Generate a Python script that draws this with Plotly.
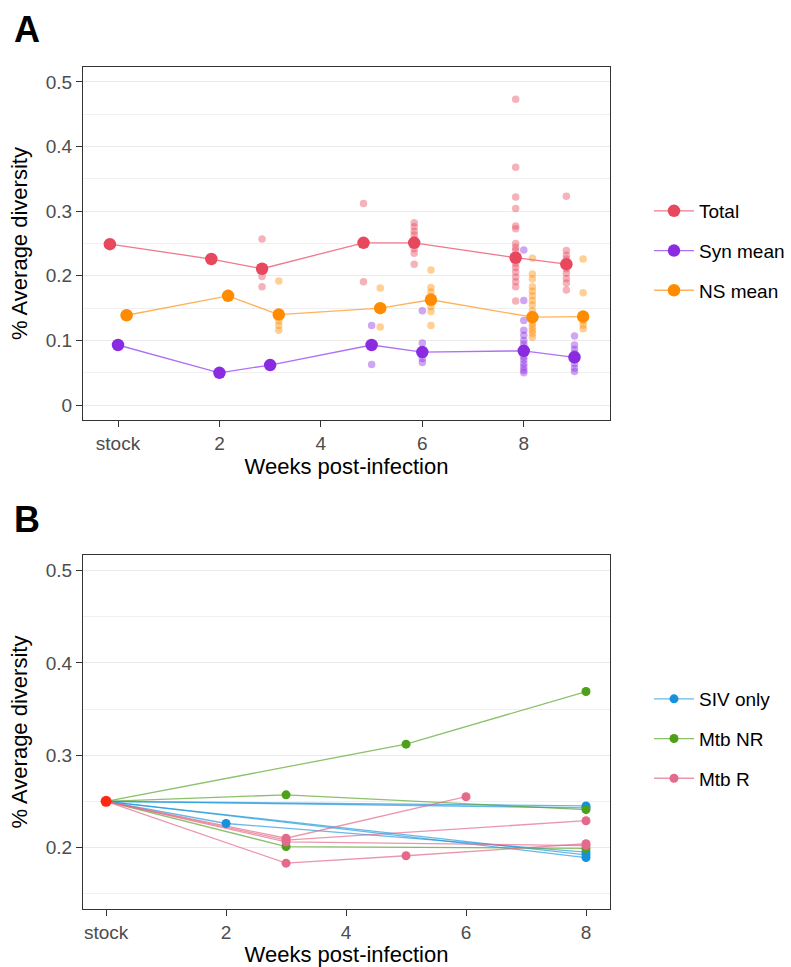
import plotly.graph_objects as go
from plotly.subplots import make_subplots

# ---------------- Panel A data ----------------
weeks_a = [0, 2, 3, 5, 6, 8, 9]
total_mean = [0.249, 0.226, 0.211, 0.251, 0.251, 0.228, 0.218]
syn_mean = [0.093, 0.050, 0.062, 0.093, 0.082, 0.084, 0.074]
ns_mean = [0.139, 0.169, 0.140, 0.150, 0.163, 0.136, 0.137]

total_ind = {
    3: [0.257, 0.210, 0.199, 0.183],
    5: [0.312, 0.191],
    6: [0.282, 0.276, 0.269, 0.263, 0.256, 0.249, 0.242, 0.235, 0.218],
    8: [0.473, 0.368, 0.322, 0.304, 0.277, 0.273, 0.250, 0.244, 0.239, 0.232,
        0.227, 0.219, 0.213, 0.206, 0.198, 0.191, 0.183, 0.161],
    9: [0.323, 0.239, 0.232, 0.226, 0.218, 0.211, 0.204, 0.196, 0.189, 0.178],
}
syn_ind = {
    3: [0.064, 0.060],
    5: [0.123, 0.063],
    6: [0.146, 0.096, 0.078, 0.072, 0.066],
    8: [0.240, 0.162, 0.131, 0.116, 0.108, 0.100, 0.094, 0.088, 0.080, 0.075,
        0.070, 0.064, 0.059, 0.054, 0.050],
    9: [0.107, 0.093, 0.086, 0.080, 0.070, 0.064, 0.057, 0.052],
}
ns_ind = {
    3: [0.192, 0.130, 0.123, 0.116],
    5: [0.181, 0.121],
    6: [0.209, 0.182, 0.175, 0.168, 0.152, 0.145, 0.123],
    8: [0.227, 0.203, 0.195, 0.183, 0.176, 0.169, 0.162, 0.155, 0.146, 0.140,
        0.131, 0.126, 0.121, 0.116, 0.111, 0.105],
    9: [0.226, 0.174, 0.130, 0.124, 0.118],
}

# ---------------- Panel B data ----------------
stock_value = 0.25
siv_only = [
    ([0, 8], [0.25, 0.245]),
    ([0, 8], [0.25, 0.243]),
    ([0, 2, 8], [0.25, 0.226, 0.195]),
    ([0, 8], [0.25, 0.192]),
    ([0, 8], [0.25, 0.189]),
]
mtb_nr = [
    ([0, 5, 8], [0.25, 0.312, 0.369]),
    ([0, 3, 8], [0.25, 0.257, 0.241]),
    ([0, 3, 8], [0.25, 0.201, 0.199]),
]
mtb_r = [
    ([0, 3, 5, 8], [0.25, 0.183, 0.191, 0.204]),
    ([0, 3, 6], [0.25, 0.210, 0.255]),
    ([0, 3, 8], [0.25, 0.208, 0.229]),
    ([0, 3, 8], [0.25, 0.206, 0.202]),
]

x_ticks = [0, 2, 4, 6, 8]
x_ticktext = ["stock", "2", "4", "6", "8"]

FONT = "Liberation Sans, Arial, sans-serif"

fig = make_subplots(rows=2, cols=1, vertical_spacing=0.0)

series_a = [
    ("Total", total_mean, total_ind, "#E8485E", "rgba(232,72,94,0.42)", "rgba(240,120,140,1)", -0.16),
    ("Syn mean", syn_mean, syn_ind, "#8A2BE2", "rgba(138,43,226,0.42)", "rgba(176,112,246,1)", 0.0),
    ("NS mean", ns_mean, ns_ind, "#FF8C00", "rgba(255,140,0,0.42)", "rgba(255,178,90,1)", 0.17),
]

# individual points first (behind)
for name, means, ind, col, col_a, lcol, dx in series_a:
    xs, ys = [], []
    for wk, vals in ind.items():
        for v in vals:
            xs.append(wk + dx)
            ys.append(v)
    fig.add_trace(go.Scatter(x=xs, y=ys, mode="markers",
                             marker=dict(size=7.5, color=col_a),
                             showlegend=False, hoverinfo="skip"), row=1, col=1)

for name, means, ind, col, col_a, lcol, dx in series_a:
    fig.add_trace(go.Scatter(x=[w + dx for w in weeks_a], y=means, mode="lines+markers",
                             name=name, legendgroup=name, legend="legend",
                             line=dict(color=lcol, width=1.3),
                             marker=dict(size=12.5, color=col)), row=1, col=1)

# Panel B
groups_b = [
    ("SIV only", siv_only, "#1592DA", "rgba(21,146,218,0.65)"),
    ("Mtb NR", mtb_nr, "#4DA01A", "rgba(77,160,26,0.65)"),
    ("Mtb R", mtb_r, "#E36A8A", "rgba(227,106,138,0.70)"),
]
for name, animals, col, lcol in groups_b:
    for i, (xs, ys) in enumerate(animals):
        fig.add_trace(go.Scatter(x=xs, y=ys, mode="lines",
                                 line=dict(color=lcol, width=1.3),
                                 showlegend=False, hoverinfo="skip"), row=2, col=1)
for name, animals, col, lcol in groups_b:
    for i, (xs, ys) in enumerate(animals):
        fig.add_trace(go.Scatter(x=xs[1:], y=ys[1:], mode="markers",
                                 marker=dict(size=9, color=col),
                                 showlegend=False, hoverinfo="skip"), row=2, col=1)
    # legend entry
    fig.add_trace(go.Scatter(x=[None], y=[None], mode="lines+markers", name=name,
                             legendgroup=name, legend="legend2",
                             line=dict(color=lcol, width=1.3),
                             marker=dict(size=9, color=col)), row=2, col=1)
fig.add_trace(go.Scatter(x=[0], y=[stock_value], mode="markers",
                         marker=dict(size=11, color="#FF2A12"),
                         showlegend=False, hoverinfo="skip"), row=2, col=1)

axis_common = dict(showline=True, mirror=True, linecolor="#333333", linewidth=1.1,
                   ticks="outside", ticklen=6, tickcolor="#333333", tickwidth=1.1,
                   tickfont=dict(family=FONT, size=19, color="#4D4D4D"),
                   zeroline=False, automargin=False)

TOP, BOT = 67, 909
H = BOT - TOP
dA = [(BOT - 420) / H, 1.0]
dB = [0.0, (BOT - 555) / H]

fig.update_xaxes(**axis_common, showgrid=False, tickvals=x_ticks, ticktext=x_ticktext,
                 title=dict(text="Weeks post-infection", font=dict(family=FONT, size=22, color="black"),
                            standoff=0))
fig.update_xaxes(range=[-0.69, 9.7], row=1, col=1)
fig.update_xaxes(range=[-0.385, 8.4], row=2, col=1)

yt = dict(text="% Average diversity", font=dict(family=FONT, size=22, color="black"), standoff=12)
fig.update_yaxes(**axis_common, showgrid=True, gridcolor="#EBEBEB", gridwidth=1.4,
                 dtick=0.1, tickformat="~g",
                 minor=dict(dtick=0.05, showgrid=True, gridcolor="#F0F0F0", gridwidth=1.1),
                 title=yt)
fig.update_yaxes(range=[-0.023, 0.523], tickvals=[0, 0.1, 0.2, 0.3, 0.4, 0.5],
                 ticktext=["0", "0.1", "0.2", "0.3", "0.4", "0.5"], domain=dA, row=1, col=1)
fig.update_yaxes(range=[0.1333, 0.517], tickvals=[0.2, 0.3, 0.4, 0.5],
                 ticktext=["0.2", "0.3", "0.4", "0.5"], domain=dB, row=2, col=1)

legend_common = dict(font=dict(family=FONT, size=19, color="black"),
                     bgcolor="rgba(0,0,0,0)", traceorder="grouped", tracegroupgap=12,
                     xanchor="left", yanchor="middle", itemwidth=40)
fig.update_layout(
    width=791, height=967,
    margin=dict(l=83, r=181, t=TOP, b=967 - BOT, autoexpand=False),
    paper_bgcolor="white", plot_bgcolor="white",
    font=dict(family=FONT),
    legend=dict(**legend_common, x=(649 - 83) / 527, y=(BOT - 251) / H),
    legend2=dict(**legend_common, x=(649 - 83) / 527, y=(BOT - 739) / H),
    annotations=[
        dict(text="<b>A</b>", x=(12 - 83) / 527, y=(BOT - 29) / H, xref="paper", yref="paper",
             showarrow=False, xanchor="left", yanchor="middle",
             font=dict(family=FONT, size=36, color="black")),
        dict(text="<b>B</b>", x=(12 - 83) / 527, y=(BOT - 519) / H, xref="paper", yref="paper",
             showarrow=False, xanchor="left", yanchor="middle",
             font=dict(family=FONT, size=36, color="black")),
    ],
)

fig.write_html("out.html", config={"displayModeBar": False},
               post_script="document.body.style.margin='0px';document.body.style.overflow='hidden';")
